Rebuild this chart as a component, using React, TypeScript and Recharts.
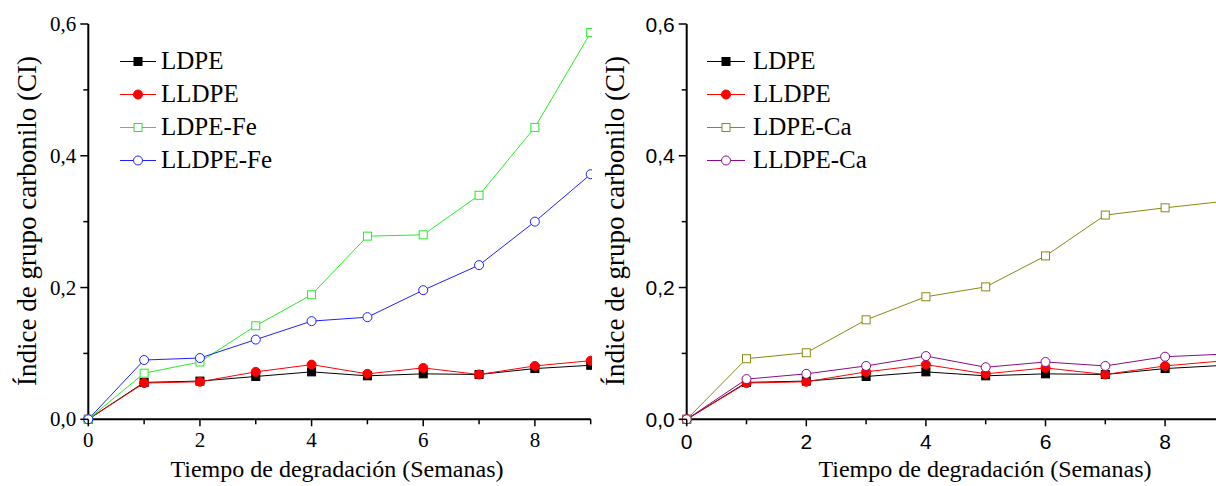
import { LineChart, Line, XAxis, YAxis, Legend } from "recharts";

// weeks of degradation
const weeks = [0, 1, 2, 3, 4, 5, 6, 7, 8, 9];

// carbonyl index
const ldpe = [0, 0.056, 0.058, 0.065, 0.072, 0.066, 0.069, 0.068, 0.077, 0.082];
const lldpe = [0, 0.055, 0.057, 0.072, 0.083, 0.069, 0.078, 0.068, 0.081, 0.089];
const ldpeFe = [0, 0.07, 0.087, 0.142, 0.189, 0.278, 0.28, 0.34, 0.443, 0.587];
const lldpeFe = [0, 0.09, 0.093, 0.121, 0.149, 0.155, 0.196, 0.234, 0.3, 0.372];
const ldpeCa = [0, 0.092, 0.101, 0.151, 0.186, 0.201, 0.248, 0.31, 0.321, 0.331];
const lldpeCa = [0, 0.061, 0.069, 0.081, 0.096, 0.079, 0.087, 0.081, 0.095, 0.099];

const yTicks = [0, 0.1, 0.2, 0.3, 0.4, 0.5, 0.6];
const xTicks = [0, 1, 2, 3, 4, 5, 6, 7, 8, 9];

const yTitle = "Índice de grupo carbonilo (CI)";
const xTitle = "Tiempo de degradación (Semanas)";

const SERIF = '"Liberation Serif", "Times New Roman", serif';
const SANS = '"Liberation Sans", Arial, sans-serif';

type Shape = "square" | "circle";
interface SeriesDef {
  key: string;
  name: string;
  color: string;
  shape: Shape;
  filled: boolean;
}

const leftSeries: SeriesDef[] = [
  { key: "ldpe", name: "LDPE", color: "#000000", shape: "square", filled: true },
  { key: "lldpe", name: "LLDPE", color: "#ff0000", shape: "circle", filled: true },
  { key: "ldpeFe", name: "LDPE-Fe", color: "#22ee22", shape: "square", filled: false },
  { key: "lldpeFe", name: "LLDPE-Fe", color: "#2020ff", shape: "circle", filled: false },
];

const rightSeries: SeriesDef[] = [
  { key: "ldpe", name: "LDPE", color: "#000000", shape: "square", filled: true },
  { key: "lldpe", name: "LLDPE", color: "#ff0000", shape: "circle", filled: true },
  { key: "ldpeCa", name: "LDPE-Ca", color: "#8a8a10", shape: "square", filled: false },
  { key: "lldpeCa", name: "LLDPE-Ca", color: "#8c0a8c", shape: "circle", filled: false },
];

const rows = weeks.map((w, i) => ({
  x: w,
  ldpe: ldpe[i],
  lldpe: lldpe[i],
  ldpeFe: ldpeFe[i],
  lldpeFe: lldpeFe[i],
  ldpeCa: ldpeCa[i],
  lldpeCa: lldpeCa[i],
}));

function Marker({ cx, cy, s }: { cx: number; cy: number; s: SeriesDef }) {
  const fill = s.filled ? s.color : "#ffffff";
  if (s.shape === "square") {
    return <rect x={cx - 4} y={cy - 4} width={8} height={8} fill={fill} stroke={s.color} strokeWidth={1} />;
  }
  return <circle cx={cx} cy={cy} r={4.5} fill={fill} stroke={s.color} strokeWidth={1} />;
}

const fmt = (v: number) => v.toFixed(1).replace(".", ",");

interface PanelProps {
  series: SeriesDef[];
  left: number;
  clipWidth: number;
  chartWidth: number;
  yAxisWidth: number;
  marginRight: number;
  xMax: number;
  tickFont: string;
  xDy: number;
  yDy: number;
  xTitleX: number;
  yTitleX: number;
  legendLeft: number;
  lineLen: number;
  textX: number;
}

function Panel(p: PanelProps) {
  const renderXTick = (props: any) => {
    const { x, y, payload } = props;
    const v = payload.value as number;
    const major = v % 2 === 0;
    return (
      <g>
        <line x1={x} y1={y} x2={x} y2={y + (major ? 7 : 5)} stroke="#000" strokeWidth={1.5} />
        {major && (
          <text x={x} y={y + p.xDy} textAnchor="middle" fontFamily={p.tickFont} fontSize={21} fill="#000">
            {v}
          </text>
        )}
      </g>
    );
  };

  const renderYTick = (props: any) => {
    const { x, y, payload } = props;
    const v = payload.value as number;
    const major = Math.round(v * 10) % 2 === 0;
    return (
      <g>
        <line x1={x - (major ? 8 : 5)} y1={y} x2={x} y2={y} stroke="#000" strokeWidth={1.5} />
        {major && (
          <text x={x - 12} y={y + p.yDy} textAnchor="end" fontFamily={p.tickFont} fontSize={21} fill="#000">
            {fmt(v)}
          </text>
        )}
      </g>
    );
  };

  const renderLegend = () => (
    <svg width={200} height={140}>
      {p.series.map((s, i) => {
        const cy = 16.5 + 33 * i;
        return (
          <g key={s.key}>
            <line x1={0} y1={cy} x2={p.lineLen} y2={cy} stroke={s.color} strokeWidth={1} />
            <Marker cx={p.lineLen / 2} cy={cy} s={s} />
            <text x={p.textX} y={cy + 7} fontFamily={SERIF} fontSize={25} fill="#000">
              {s.name}
            </text>
          </g>
        );
      })}
    </svg>
  );

  return (
    <div
      style={{
        position: "absolute",
        left: p.left,
        top: 0,
        width: p.clipWidth,
        height: 486,
        overflow: "hidden",
      }}
    >
      <LineChart
        width={p.chartWidth}
        height={486}
        data={rows}
        margin={{ top: 24, right: p.marginRight, bottom: 0, left: 0 }}
      >
        <XAxis
          type="number"
          dataKey="x"
          domain={[0, p.xMax]}
          ticks={xTicks}
          interval={0}
          height={66.7}
          tickSize={0}
          tickMargin={0}
          tickLine={false}
          axisLine={{ stroke: "#000", strokeWidth: 2 }}
          tick={renderXTick}
          label={() => (
            <text x={p.xTitleX} y={477} textAnchor="middle" fontFamily={SERIF} fontSize={24} fill="#000">
              {xTitle}
            </text>
          )}
        />
        <YAxis
          type="number"
          domain={[0, 0.6]}
          ticks={yTicks}
          interval={0}
          width={p.yAxisWidth}
          tickSize={0}
          tickMargin={0}
          tickLine={false}
          axisLine={{ stroke: "#000", strokeWidth: 2 }}
          tick={renderYTick}
          label={() => (
            <text
              x={p.yTitleX}
              y={221}
              transform={`rotate(-90, ${p.yTitleX}, 221)`}
              textAnchor="middle"
              dominantBaseline="central"
              fontFamily={SERIF}
              fontSize={27}
              fill="#000"
            >
              {yTitle}
            </text>
          )}
        />
        <Legend
          layout="vertical"
          align="center"
          verticalAlign="middle"
          wrapperStyle={{ left: p.legendLeft, top: 45, width: 200 }}
          content={renderLegend}
        />
        {p.series.map((s) => (
          <Line
            key={s.key}
            type="linear"
            dataKey={s.key}
            name={s.name}
            stroke={s.color}
            strokeWidth={1}
            isAnimationActive={false}
            activeDot={false}
            dot={(d: any) => <Marker key={`${s.key}-${d.index}`} cx={d.cx} cy={d.cy} s={s} />}
          />
        ))}
      </LineChart>
    </div>
  );
}

export default function App() {
  return (
    <div
      style={{
        position: "absolute",
        left: 0,
        top: 0,
        width: 1216,
        height: 486,
        background: "#fff",
        overflow: "hidden",
      }}
    >
      <Panel
        series={leftSeries}
        left={0}
        clipWidth={592}
        chartWidth={620}
        yAxisWidth={88.3}
        marginRight={29.3}
        xMax={9}
        tickFont={SERIF}
        xDy={28}
        yDy={7}
        xTitleX={337}
        yTitleX={27}
        legendLeft={120}
        lineLen={36}
        textX={41}
      />
      <Panel
        series={rightSeries}
        left={600}
        clipWidth={616}
        chartWidth={700}
        yAxisWidth={86.7}
        marginRight={15.3}
        xMax={10}
        tickFont={SANS}
        xDy={30}
        yDy={7.5}
        xTitleX={385}
        yTitleX={15}
        legendLeft={107}
        lineLen={38}
        textX={46}
      />
    </div>
  );
}
